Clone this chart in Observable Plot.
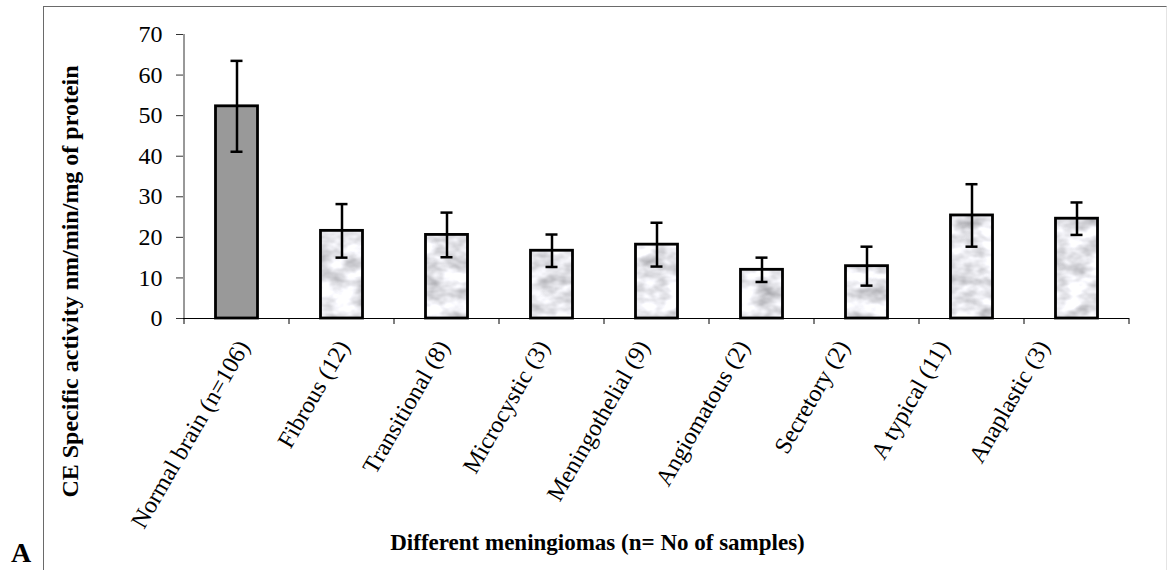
<!DOCTYPE html>
<html><head><meta charset="utf-8">
<script src="https://cdn.jsdelivr.net/npm/d3@7"></script>
<script src="https://cdn.jsdelivr.net/npm/@observablehq/plot@0.6"></script>
<style>
html,body{margin:0;padding:0;background:#fff;}
#wrap{position:relative;width:1168px;height:570px;overflow:hidden;}
#frame{position:absolute;left:43px;top:6px;width:1122px;height:600px;border-left:1.5px solid #6a6a6a;border-top:1.5px solid #6a6a6a;border-right:1px solid #e4e4e4;pointer-events:none;}
#A{position:absolute;left:11px;top:540px;font:bold 28px/26px "Liberation Serif","Times New Roman",serif;color:#000;}
#chart,#labels{position:absolute;left:0;top:0;}
</style></head>
<body>
<div id="wrap"><div id="chart"></div><div id="labels"></div><div id="frame"></div><div id="A">A</div></div>
<script>
const categories = ["Normal brain (n=106)", "Fibrous (12)", "Transitional (8)", "Microcystic (3)", "Meningothelial (9)", "Angiomatous (2)", "Secretory (2)", "A typical (11)", "Anaplastic (3)"];
const means = [52.3, 21.6, 20.6, 16.7, 18.2, 12.0, 12.9, 25.4, 24.6];
const errors = [11.2, 6.6, 5.5, 4.0, 5.4, 3.0, 4.8, 7.7, 4.0];
const yTicks = [0, 10, 20, 30, 40, 50, 60, 70];
const yLabel = "CE Specific activity nm/min/mg of protein";
const xLabel = "Different meningiomas (n= No of samples)";

const data = categories.map((c, i) => ({cat: c, mean: means[i], lo: means[i] - errors[i], hi: means[i] + errors[i]}));
const font = "'Liberation Serif', 'Times New Roman', serif";

const plot = Plot.plot({
  width: 1168, height: 570,
  marginLeft: 183, marginRight: 39, marginTop: 34, marginBottom: 252,
  style: {fontFamily: font, background: "transparent", color: "#000"},
  x: {type: "band", domain: categories, padding: 0, label: null, axis: null},
  y: {domain: [0, 70], label: null},
  marks: [
    Plot.axisY({ticks: yTicks, tickSize: 7, tickPadding: 14, fontSize: 24, label: null, stroke: "#333"}),
    Plot.barY(data, {filter: d => d.cat === categories[0], x: "cat", y: "mean", fill: "#999999", stroke: "#000", strokeWidth: 2.8, insetLeft: 31.5, insetRight: 31.5}),
    Plot.barY(data, {filter: d => d.cat !== categories[0], x: "cat", y: "mean", fill: "url(#marble)", stroke: "#000", strokeWidth: 2.8, insetLeft: 31.5, insetRight: 31.5}),
    Plot.ruleY([0], {stroke: "#000", strokeWidth: 1}),
    Plot.ruleX(data, {x: "cat", y1: "lo", y2: "hi", stroke: "#000", strokeWidth: 2.5}),
    Plot.tickY(data, {x: "cat", y: "lo", stroke: "#000", strokeWidth: 2.5, insetLeft: 46.5, insetRight: 46.5}),
    Plot.tickY(data, {x: "cat", y: "hi", stroke: "#000", strokeWidth: 2.5, insetLeft: 46.5, insetRight: 46.5}),
    Plot.text([yLabel], {frameAnchor: "left", textAnchor: "middle", lineAnchor: "middle", rotate: -90, dx: -113, dy: 105, fontSize: 24, fontWeight: "bold", fill: "#000"}),
    Plot.text([xLabel], {frameAnchor: "bottom", textAnchor: "middle", lineAnchor: "middle", dx: -59, dy: 224, fontSize: 23, fontWeight: "bold", fill: "#000"})
  ]
});

// category labels: in the original figure they sit on a slightly narrower spacing than the bars
const labels = Plot.plot({
  width: 1168, height: 570,
  marginLeft: 193, marginRight: 75, marginTop: 34, marginBottom: 252,
  style: {fontFamily: font, background: "transparent", color: "#000"},
  x: {type: "band", domain: categories, padding: 0, label: null},
  marks: [
    Plot.axisX({tickSize: 0, tickRotate: -60, tickPadding: 24, fontSize: 24, label: null})
  ]
});

// texture pattern for the tumour bars
const svg = d3.select(plot);
const defs = svg.insert("defs", ":first-child");
const f = defs.append("filter").attr("id", "marbleF").attr("x", 0).attr("y", 0).attr("width", "100%").attr("height", "100%").attr("color-interpolation-filters", "sRGB");
f.append("feTurbulence").attr("type", "fractalNoise").attr("baseFrequency", "0.045 0.07").attr("numOctaves", 3).attr("seed", 7);
f.append("feColorMatrix").attr("type", "matrix").attr("values", "0.6 0 0 0 0.6  0.6 0 0 0 0.6  0.6 0 0 0 0.62  0 0 0 0 1");
const pat = defs.append("pattern").attr("id", "marble").attr("patternUnits", "userSpaceOnUse").attr("width", 400).attr("height", 400);
pat.append("rect").attr("width", 400).attr("height", 400).attr("fill", "#e2e2e6").attr("filter", "url(#marbleF)");

// axis lines and category boundary ticks from the plot's own scales
const xs = plot.scale("x"), ys = plot.scale("y");
const y0 = ys.apply(0), yTop = ys.apply(70);
const x0 = xs.apply(categories[0]);
const g = svg.append("g").attr("stroke", "#000").attr("stroke-width", 1);
g.append("line").attr("x1", x0).attr("x2", x0).attr("y1", yTop).attr("y2", y0).attr("stroke", "#333");
const edges = categories.map(c => xs.apply(c)).concat([xs.apply(categories[categories.length - 1]) + xs.bandwidth]);
edges.forEach(e => g.append("line").attr("x1", e).attr("x2", e).attr("y1", y0).attr("y2", y0 + 6));

document.getElementById("chart").appendChild(plot);
document.getElementById("labels").appendChild(labels);
</script>
</body></html>
